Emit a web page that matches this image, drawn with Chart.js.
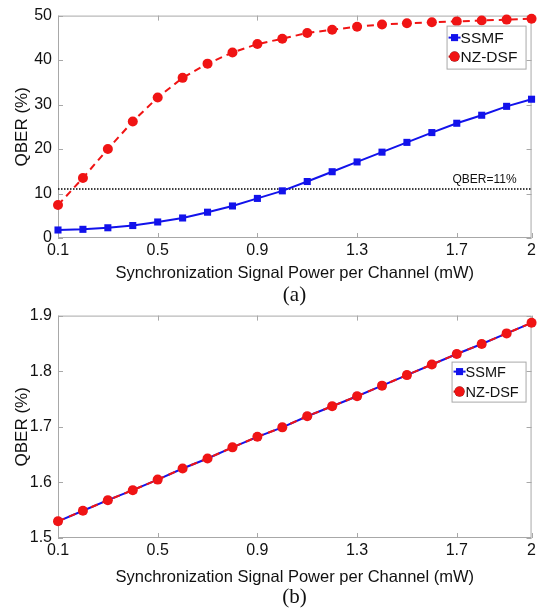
<!DOCTYPE html>
<html>
<head>
<meta charset="utf-8">
<script src="https://cdn.jsdelivr.net/npm/chart.js@4"></script>
<style>
  body { margin: 0; background: #fff; }
  #wrap { position: relative; width: 539px; height: 609px; }
  .box { position: absolute; left: 0; width: 539px; }
  .cap { position: absolute; left: 25px; width: 539px; text-align: center;
         font-family: "Liberation Serif", "DejaVu Serif", serif; font-size: 21px; color: #111; }
</style>
</head>
<body>
<div id="wrap">
  <div class="box" style="top:0;height:286px"><canvas id="chartA"></canvas></div>
  <div class="cap" style="top:282px">(a)</div>
  <div class="box" style="top:300px;height:290px"><canvas id="chartB"></canvas></div>
  <div class="cap" style="top:584px">(b)</div>
</div>
<script>
// data
const power = [0.1, 0.2, 0.3, 0.4, 0.5, 0.6, 0.7, 0.8, 0.9, 1.0,
               1.1, 1.2, 1.3, 1.4, 1.5, 1.6, 1.7, 1.8, 1.9, 2.0];
const ssmfA  = [1.8, 1.95, 2.3, 2.8, 3.6, 4.5, 5.8, 7.2, 8.9, 10.6,
                12.7, 14.9, 17.1, 19.3, 21.5, 23.7, 25.8, 27.6, 29.6, 31.2];
const nzdsfA = [7.4, 13.5, 20.0, 26.2, 31.6, 36.0, 39.2, 41.7, 43.6, 44.8,
                46.1, 46.8, 47.5, 48.0, 48.3, 48.5, 48.7, 48.9, 49.1, 49.3];
const ssmfB  = [1.530, 1.549, 1.568, 1.586, 1.605, 1.625, 1.643, 1.663, 1.682, 1.699,
                1.719, 1.737, 1.755, 1.774, 1.793, 1.812, 1.831, 1.849, 1.868, 1.887];
const nzdsfB = [1.530, 1.549, 1.568, 1.586, 1.605, 1.625, 1.643, 1.663, 1.682, 1.699,
                1.719, 1.737, 1.755, 1.774, 1.793, 1.812, 1.831, 1.849, 1.868, 1.887];
const xTicks  = [0.1, 0.5, 0.9, 1.3, 1.7, 2];
const yTicksA = [0, 10, 20, 30, 40, 50];
const yTicksB = [1.5, 1.6, 1.7, 1.8, 1.9];
const qberLimit = 11;

const BLUE = 'rgb(18,18,235)';
const RED = 'rgb(240,20,20)';
const FONT = '"Liberation Sans", Arial, sans-serif';

// frame, inward ticks, reference line and the boxed legend, MATLAB style
const framePlugin = {
  id: 'frame',
  beforeDatasetsDraw(chart, args, opts) {
    const {ctx, chartArea: a, scales: {x, y}} = chart;
    ctx.save();
    ctx.strokeStyle = '#a8a8a8';
    ctx.lineWidth = 1;
    ctx.strokeRect(a.left + 0.5, a.top + 0.5, a.width - 1, a.height - 1);
    ctx.beginPath();
    x.ticks.forEach(t => {
      const px = Math.round(x.getPixelForValue(t.value)) + 0.5;
      ctx.moveTo(px, a.bottom); ctx.lineTo(px, a.bottom - 5);
      ctx.moveTo(px, a.top); ctx.lineTo(px, a.top + 5);
    });
    y.ticks.forEach(t => {
      const py = Math.round(y.getPixelForValue(t.value)) + 0.5;
      ctx.moveTo(a.left, py); ctx.lineTo(a.left + 5, py);
      ctx.moveTo(a.right, py); ctx.lineTo(a.right - 5, py);
    });
    ctx.stroke();

    if (opts.refLine != null) {
      const py = y.getPixelForValue(opts.refLine);
      ctx.strokeStyle = '#000';
      ctx.lineWidth = 1.5;
      ctx.setLineDash([1.5, 1.5]);
      ctx.beginPath();
      ctx.moveTo(a.left, py); ctx.lineTo(a.right, py);
      ctx.stroke();
      ctx.setLineDash([]);
      ctx.fillStyle = '#111';
      ctx.font = '12px ' + FONT;
      ctx.textAlign = 'right';
      ctx.textBaseline = 'alphabetic';
      ctx.fillText(opts.refLabel, a.right - 15, py - 6);
    }
    ctx.restore();
  },
  afterDatasetsDraw(chart, args, opts) {
    const {ctx, chartArea: a} = chart;
    const lg = opts.legend;
    const bx = a.right - lg.right - lg.w, by = a.top + lg.top;
    ctx.save();
    ctx.fillStyle = '#fff';
    ctx.fillRect(bx, by, lg.w, lg.h);
    ctx.strokeStyle = '#a8a8a8';
    ctx.lineWidth = 1;
    ctx.strokeRect(bx + 0.5, by + 0.5, lg.w, lg.h);
    ctx.font = lg.font + 'px ' + FONT;
    ctx.textBaseline = 'middle';
    ctx.textAlign = 'left';
    chart.data.datasets.forEach((ds, i) => {
      const ry = by + lg.h / 2 + (i - 0.5) * lg.row;
      const mx = bx + 8;
      ctx.strokeStyle = ds.borderColor;
      ctx.lineWidth = 2;
      ctx.setLineDash(ds.borderDash || []);
      ctx.beginPath();
      ctx.moveTo(bx + 2, ry); ctx.lineTo(bx + 14, ry);
      ctx.stroke();
      ctx.setLineDash([]);
      Chart.helpers.drawPoint(ctx, {pointStyle: ds.pointStyle, radius: ds.pointRadius, borderWidth: 0}, mx, ry);
      ctx.fillStyle = ds.pointBackgroundColor;
      ctx.fill();
      ctx.fillStyle = '#111';
      ctx.fillText(ds.label, bx + 14, ry + 1);
    });
    ctx.restore();
  }
};

function series(label, ys, color, style, dash, order) {
  return {
    label: label,
    data: power.map((p, i) => ({x: p, y: ys[i]})),
    borderColor: color,
    backgroundColor: color,
    pointBackgroundColor: color,
    pointBorderWidth: 0,
    pointStyle: style,
    pointRadius: 5,
    borderWidth: 2,
    borderDash: dash,
    order: order,
    clip: false
  };
}

function makeChart(id, ssmf, nzdsf, yTicks, yMin, yMax, fmt, axisH, frameOpts) {
  return new Chart(document.getElementById(id), {
    type: 'line',
    data: {
      datasets: [
        series('SSMF', ssmf, BLUE, 'rect', [], 2),
        series('NZ-DSF', nzdsf, RED, 'circle', [7, 5], 1)
      ]
    },
    options: {
      responsive: true,
      maintainAspectRatio: false,
      animation: false,
      layout: { padding: { top: 15, right: 6, left: 0, bottom: 0 } },
      plugins: { legend: { display: false }, tooltip: { enabled: false }, frame: frameOpts },
      scales: {
        x: {
          type: 'linear', min: 0.1, max: 2,
          afterBuildTicks: s => { s.ticks = xTicks.map(v => ({value: v})); },
          afterFit: s => { s.height = axisH; },
          grid: { display: false, drawTicks: false }, border: { display: false },
          ticks: { color: '#111', padding: 3, maxRotation: 0, font: { family: FONT, size: 16 },
                   callback: v => String(v) },
          title: { display: true, text: 'Synchronization Signal Power per Channel (mW)', color: '#111',
                   font: { family: FONT, size: 16.5 }, padding: { top: 0, bottom: 3 } }
        },
        y: {
          min: yMin, max: yMax,
          afterBuildTicks: s => { s.ticks = yTicks.map(v => ({value: v})); },
          afterFit: s => { s.width = 58; },
          grid: { display: false, drawTicks: false }, border: { display: false },
          ticks: { color: '#111', padding: 6, font: { family: FONT, size: 16 }, callback: fmt },
          title: { display: true, text: 'QBER (%)', color: '#111',
                   font: { family: FONT, size: 17 }, padding: { top: 12, bottom: 0 } }
        }
      }
    },
    plugins: [framePlugin]
  });
}

makeChart('chartA', ssmfA, nzdsfA, yTicksA, 0, 50, v => String(v), 48, {
  refLine: qberLimit, refLabel: 'QBER=11%',
  legend: { right: 6, top: 10, w: 79, h: 43, row: 19, font: 15.5 }
});
makeChart('chartB', ssmfB, nzdsfB, yTicksB, 1.5, 1.9, v => v.toFixed(1), 52, {
  refLine: null,
  legend: { right: 6, top: 46, w: 74, h: 40, row: 20, font: 14.5 }
});
</script>
</body>
</html>
